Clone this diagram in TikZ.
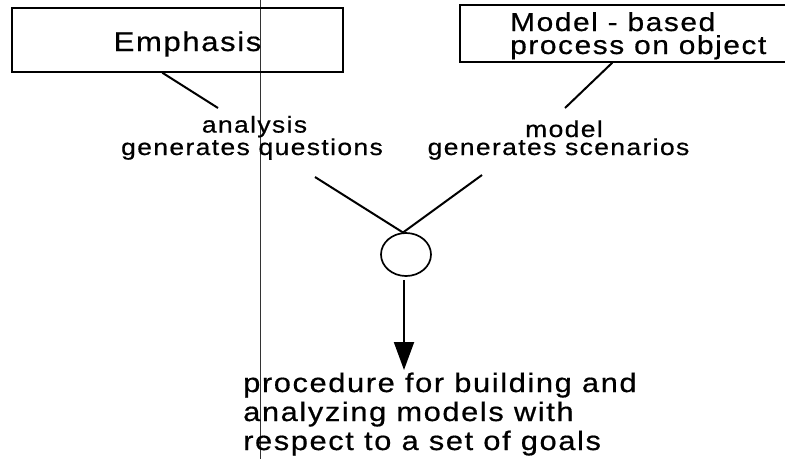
\documentclass[tikz,border=0pt]{standalone}
\usepackage{fontspec}
\setmainfont{Liberation Sans}[FakeStretch=1.15,LetterSpace=6,FakeBold=0.6]
\usetikzlibrary{arrows.meta,calc,shapes.geometric}
\tikzset{
  box/.style={draw, line width=1.4pt, inner sep=0pt},
  conn/.style={line width=2pt},
  tA/.style={inner sep=0pt, font=\fontsize{27pt}{27pt}\selectfont},
  tB/.style={inner sep=0pt, align=left, font=\fontsize{26pt}{23pt}\selectfont},
  tC/.style={inner sep=0pt, align=center, font=\fontsize{23pt}{18pt}\selectfont},
  tD/.style={inner sep=0pt, align=left, font=\fontsize{26.8pt}{29pt}\selectfont},
}
\begin{document}
\begin{tikzpicture}[x=1pt,y=-1pt]
\useasboundingbox (0,0) rectangle (785,459);
% scan line
\draw[line width=0.7pt, black!80] (260,0) -- (260,459);
% boxes
\node[box, minimum width=331pt, minimum height=64pt] (emph) at (177.5,40) {};
\node[tA, anchor=base] (emphtxt) at (187.5,51) {Emphasis};
\node[box, minimum width=340pt, minimum height=57pt] (modelbox) at (630,33.5) {};
\node[tB, anchor=base west] (mtxt) at (510,54) {Model - based\\process on object};
% labels
\node[tC, anchor=base] (lq) at (252,155) {\hspace*{5pt}analysis\\generates questions};
\node[tC, anchor=base] (ls) at (558.5,155) {\hspace*{11pt}model\\generates scenarios};
% join circle
\node[draw, ellipse, line width=1.7pt, minimum width=50pt, minimum height=43pt, inner sep=0pt] (join) at (406,254.5) {};
% bottom text
\node[tD, anchor=base west] (proc) at (243,450) {procedure for building and\\analyzing models with\\respect to a set of goals};
% coordinates
\coordinate (e1) at (218,108);
\coordinate (m1) at (565,108);
\coordinate (v1) at (315,177);
\coordinate (v2) at (482,175);
\coordinate (vj) at (403,232.5);
\coordinate (a0) at (404,280);
\coordinate (a1) at (404,370);
% connectors
\draw[conn] ($(emph.south west)+(151,0)$) -- (e1);
\draw[conn] ($(modelbox.south west)+(153,0)$) -- (m1);
\draw[conn] (v1) -- (vj) -- (v2);
\draw[line width=2pt, -{Triangle[width=20pt,length=28pt]}] (a0) -- (a1);
\end{tikzpicture}
\end{document}
